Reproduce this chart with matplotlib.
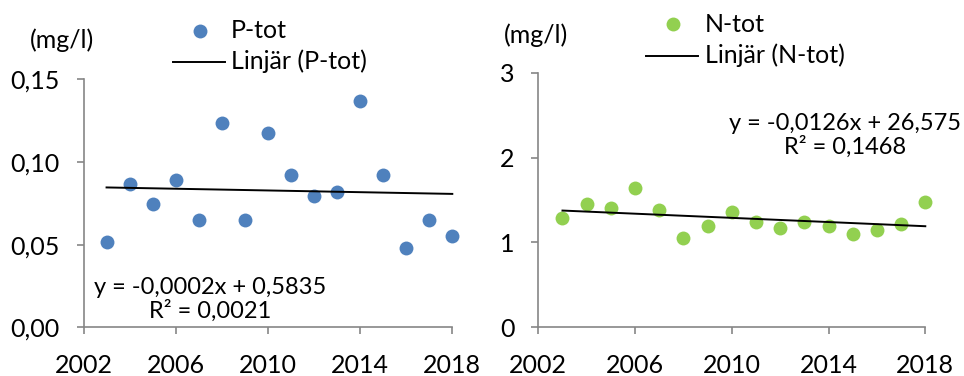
import matplotlib
matplotlib.use("Agg")
import matplotlib.pyplot as plt
import numpy as np
from matplotlib.lines import Line2D

plt.rcParams['font.family'] = ['Lato', 'DejaVu Sans']

years = list(range(2003, 2019))
p_tot = [0.0514, 0.0865, 0.0744, 0.0889, 0.0647, 0.1238, 0.0647, 0.1177,
         0.0923, 0.0792, 0.0817, 0.1371, 0.0923, 0.0478, 0.0647, 0.0550]
n_tot = [1.284, 1.452, 1.402, 1.637, 1.378, 1.052, 1.193, 1.354,
         1.240, 1.170, 1.240, 1.193, 1.099, 1.146, 1.217, 1.476]
x_ticks = [2002, 2006, 2010, 2014, 2018]
p_yticks = [0.00, 0.05, 0.10, 0.15]
p_yticklabels = ["0,00", "0,05", "0,10", "0,15"]
n_yticks = [0, 1, 2, 3]
n_yticklabels = ["0", "1", "2", "3"]
p_eq = "y = -0,0002x + 0,5835\nR² = 0,0021"
n_eq = "y = -0,0126x + 26,575\nR² = 0,1468"

W, H = 964, 376
fig = plt.figure(figsize=(W/100, H/100), dpi=100)

gray = '#868686'
fs = 18

def style(ax):
    for s in ['top', 'right']:
        ax.spines[s].set_visible(False)
    for s in ['left', 'bottom']:
        ax.spines[s].set_color(gray)
        ax.spines[s].set_linewidth(1.2)
    ax.tick_params(axis='both', colors=gray, length=5, width=1.2, labelsize=fs,
                   labelcolor='black', direction='out')
    ax.tick_params(axis='x', pad=14)
    ax.tick_params(axis='y', pad=12)
    ax.set_xlim(2002, 2018)
    ax.set_xticks(x_ticks)

def trend(ax, y):
    x = np.array(years, dtype=float)
    k, m = np.polyfit(x, np.array(y), 1)
    ax.plot([x[0], x[-1]], [k*x[0]+m, k*x[-1]+m], color='black', lw=1.4, zorder=3,
            clip_on=False)

# left panel
ax1 = fig.add_axes([83.5/W, 1-327.3/H, (452.3-83.5)/W, (327.3-79.3)/H])
style(ax1)
ax1.scatter(years, p_tot, s=100, color='#4F81BD', zorder=2, linewidths=0, clip_on=False)
trend(ax1, p_tot)
ax1.set_ylim(0, 0.15)
ax1.set_yticks(p_yticks)
ax1.set_yticklabels(p_yticklabels)

# right panel
ax2 = fig.add_axes([538.3/W, 1-327.3/H, (925.3-538.3)/W, (327.3-72.7)/H])
style(ax2)
ax2.scatter(years, n_tot, s=100, color='#92D050', zorder=2, linewidths=0, clip_on=False)
trend(ax2, n_tot)
ax2.set_ylim(0, 3)
ax2.set_yticks(n_yticks)
ax2.set_yticklabels(n_yticklabels)

# units
fig.text(62/W, 1-40/H, "(mg/l)", fontsize=fs, ha='center', va='center')
fig.text(536/W, 1-35/H, "(mg/l)", fontsize=fs, ha='center', va='center')

# legends
def legend(mx, my, tx, ly, lx0, lx1, label1, label2, color):
    fig.add_artist(Line2D([mx/W], [1-my/H], marker='o', markersize=10, color=color,
                          markeredgewidth=0, linestyle='none'))
    fig.text(tx/W, 1-my/H, label1, fontsize=fs, ha='left', va='center')
    fig.add_artist(Line2D([lx0/W, lx1/W], [1-ly/H, 1-ly/H], color='black', lw=1.4))
    fig.text(tx/W, 1-ly/H, label2, fontsize=fs, ha='left', va='center')

legend(200, 30.5, 231, 61.5, 173, 225, "P-tot", "Linjär (P-tot)", '#4F81BD')
legend(673, 24, 705, 55.5, 646, 698, "N-tot", "Linjär (N-tot)", '#92D050')

# equations
fig.text(210/W, 1-299/H, p_eq, fontsize=17, ha='center', va='center', linespacing=1.1)
fig.text(845/W, 1-135/H, n_eq, fontsize=17, ha='center', va='center', linespacing=1.1)

fig.savefig("out.png", dpi=100)
